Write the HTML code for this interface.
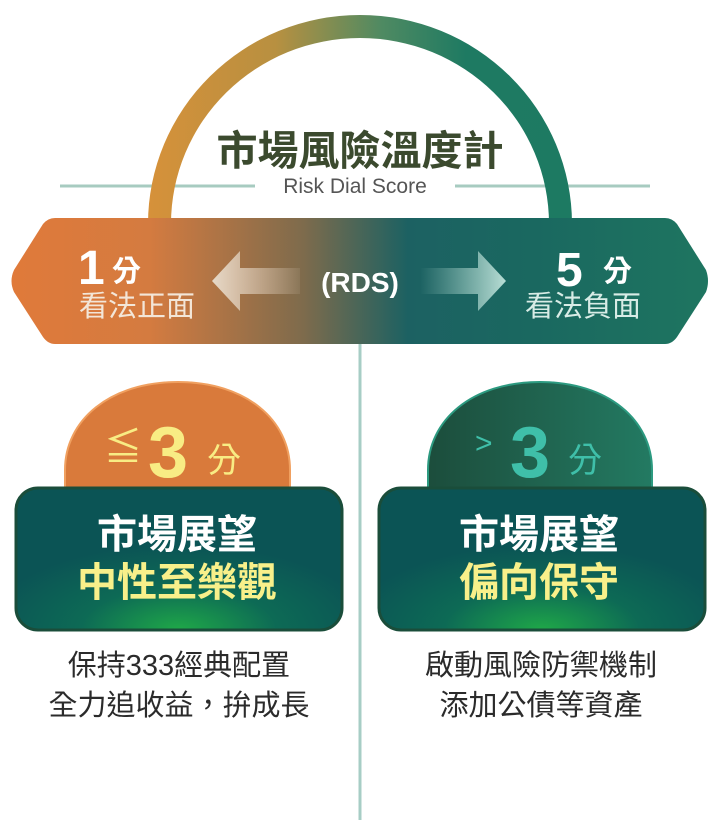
<!DOCTYPE html>
<html><head><meta charset="utf-8"><style>
html,body{margin:0;padding:0;background:#fff;width:720px;height:820px;overflow:hidden}
svg text{font-family:"Liberation Sans","Noto Sans CJK TC",sans-serif}
</style></head><body>
<svg width="720" height="820" viewBox="0 0 720 820" xmlns="http://www.w3.org/2000/svg">
<defs>
<linearGradient id="arch" x1="148" y1="0" x2="572" y2="0" gradientUnits="userSpaceOnUse">
<stop offset="0" stop-color="#d6913a"/><stop offset="0.3" stop-color="#b89040"/><stop offset="0.55" stop-color="#4f8a62"/><stop offset="0.75" stop-color="#1e7a62"/><stop offset="1" stop-color="#1d7a62"/></linearGradient>
<linearGradient id="ban" x1="10" y1="0" x2="708" y2="0" gradientUnits="userSpaceOnUse">
<stop offset="0" stop-color="#e07a3a"/><stop offset="0.2" stop-color="#d47b40"/><stop offset="0.42" stop-color="#7e6b4c"/><stop offset="0.57" stop-color="#1c6162"/><stop offset="0.75" stop-color="#1a6860"/><stop offset="1" stop-color="#1e7560"/></linearGradient>
<linearGradient id="la" x1="212" y1="0" x2="310" y2="0" gradientUnits="userSpaceOnUse"><stop offset="0" stop-color="#e6d9c8"/><stop offset="1" stop-color="#e6d9c8" stop-opacity="0"/></linearGradient>
<linearGradient id="ra" x1="420" y1="0" x2="506" y2="0" gradientUnits="userSpaceOnUse"><stop offset="0" stop-color="#a8d4cb" stop-opacity="0"/><stop offset="1" stop-color="#b8ddd5"/></linearGradient>
<radialGradient id="glow" cx="0.5" cy="1" r="0.6"><stop offset="0" stop-color="#1fa848"/><stop offset="0.5" stop-color="#0d6a55"/><stop offset="1" stop-color="#0b5455"/></radialGradient>
<linearGradient id="rdome" x1="0" y1="0" x2="1" y2="0"><stop offset="0" stop-color="#1c4d3c"/><stop offset="1" stop-color="#237a62"/></linearGradient>
</defs>
<line x1="60" y1="186" x2="255" y2="186" stroke="#a7cbc0" stroke-width="3"/>
<line x1="455" y1="186" x2="650" y2="186" stroke="#a7cbc0" stroke-width="3"/>
<line x1="360" y1="340" x2="360" y2="820" stroke="#a7cdc5" stroke-width="3"/>
<path d="M148 225 L148 224 A212 209 0 0 1 572 224 L572 225 L549 225 L549 224 A189 186 0 0 0 171 224 L171 225 Z" fill="url(#arch)"/>
<text x="360" y="165" text-anchor="middle" font-size="41" font-weight="bold" fill="#3b4a2e">市場風險溫度計</text>
<text x="355" y="193" text-anchor="middle" font-size="21" fill="#555">Risk Dial Score</text>
<path d="M55 218 L665 218 Q672 218 677 224 L706 270 Q710 281 706 292 L677 337 Q672 344 665 344 L55 344 Q48 344 43 337 L14 292 Q9 281 14 270 L43 224 Q48 218 55 218 Z" fill="url(#ban)"/>
<text x="78" y="284" font-size="48" font-weight="bold" fill="#fff">1</text>
<text x="112" y="281" font-size="29" font-weight="bold" fill="#fff">分</text>
<text x="79" y="316" font-size="29" fill="#f3e6d8">看法正面</text>
<path d="M212 281 L240 251 L240 268 L300 268 L300 294 L240 294 L240 311 Z" fill="url(#la)"/>
<path d="M506 281 L478 251 L478 268 L420 268 L420 294 L478 294 L478 311 Z" fill="url(#ra)"/>
<text x="360" y="292" text-anchor="middle" font-size="28" font-weight="bold" fill="#fff">(RDS)</text>
<text x="556" y="286" font-size="48" font-weight="bold" fill="#fff">5</text>
<text x="603" y="281" font-size="29" font-weight="bold" fill="#fff">分</text>
<text x="641" y="316" text-anchor="end" font-size="29" fill="#d8ece6">看法負面</text>
<path d="M65 495 L65 470 C65 420 110 382 178 382 C246 382 290 420 290 470 L290 495 Z" fill="#d97a3b" stroke="#f0a060" stroke-width="2"/>
<path d="M428 495 L428 470 C428 420 472 382 540 382 C608 382 652 420 652 470 L652 495 Z" fill="url(#rdome)" stroke="#2c9a80" stroke-width="2"/>
<text x="104" y="460" font-size="38" fill="#f8ec84">≦</text>
<text x="148" y="477" font-size="72" font-weight="bold" fill="#f8ec84">3</text>
<text x="207" y="472" font-size="34" fill="#f8ec84">分</text>
<text x="475" y="453" font-size="30" fill="#3fbfa9">&gt;</text>
<text x="510" y="477" font-size="72" font-weight="bold" fill="#3fbfa9">3</text>
<text x="568" y="472" font-size="34" fill="#3fbfa9">分</text>
<rect x="16" y="488" width="326" height="142" rx="22" fill="url(#glow)" stroke="#1a4d3a" stroke-width="3"/>
<rect x="379" y="488" width="326" height="142" rx="22" fill="url(#glow)" stroke="#1a4d3a" stroke-width="3"/>
<text x="177" y="548" text-anchor="middle" font-size="40" font-weight="bold" fill="#fff">市場展望</text>
<text x="177" y="596" text-anchor="middle" font-size="40" font-weight="bold" fill="#f8f08a">中性至樂觀</text>
<text x="539" y="548" text-anchor="middle" font-size="40" font-weight="bold" fill="#fff">市場展望</text>
<text x="539" y="596" text-anchor="middle" font-size="40" font-weight="bold" fill="#f8f08a">偏向保守</text>
<text x="179" y="675" text-anchor="middle" font-size="29" fill="#2b2b2b">保持333經典配置</text>
<text x="179" y="715" text-anchor="middle" font-size="29" fill="#2b2b2b">全力追收益，拚成長</text>
<text x="541" y="675" text-anchor="middle" font-size="29" fill="#2b2b2b">啟動風險防禦機制</text>
<text x="541" y="715" text-anchor="middle" font-size="29" fill="#2b2b2b">添加公債等資產</text>
</svg>
</body></html>
